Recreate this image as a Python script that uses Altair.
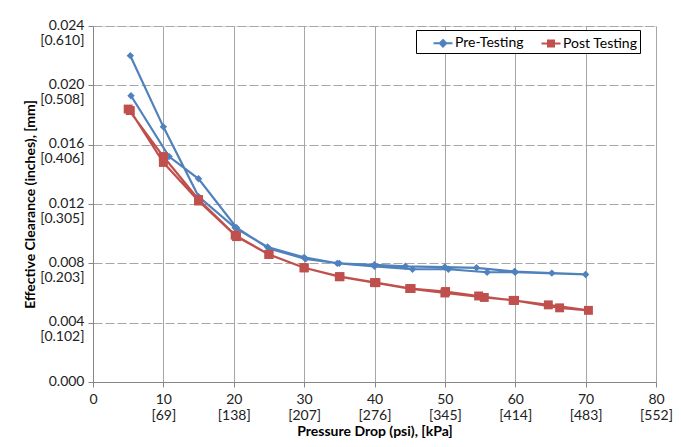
import json
import altair as alt
import pandas as pd

# ---------------- data ----------------
series_names = ["Pre-Testing", "Post Testing"]
series_colors = ["#4F81BD", "#C0504D"]

pre_psi = [5.3, 10.0, 15.0, 20.2, 24.8, 30.0, 34.7, 40.0, 44.4, 50.0, 54.5, 59.9, 65.2, 70.0,
           60.0, 56.0, 50.5, 45.4, 40.0, 35.0, 30.2, 25.0, 20.4, 15.0, 10.8, 5.4]
pre_in = [0.0220, 0.0172, 0.0125, 0.0104, 0.0091, 0.0084, 0.0080, 0.0079, 0.0078, 0.00775, 0.0077, 0.00745, 0.00734, 0.00725,
          0.0074, 0.0074, 0.0076, 0.0076, 0.0078, 0.0080, 0.0083, 0.0090, 0.0104, 0.0137, 0.0152, 0.0193]

post_psi = [5.0, 10.0, 15.0, 20.2, 25.0, 30.0, 35.1, 40.2, 45.2, 50.1, 54.8, 59.7, 64.7, 70.4,
            66.3, 59.9, 55.6, 50.0, 45.0, 40.0, 35.0, 30.0, 25.0, 20.4, 15.0, 10.0, 5.3]
post_in = [0.0184, 0.0152, 0.0123, 0.0099, 0.0086, 0.0077, 0.0071, 0.0067, 0.0063, 0.0061, 0.0058, 0.0055, 0.0052, 0.00483,
           0.0050, 0.0055, 0.0057, 0.0060, 0.0063, 0.0067, 0.0071, 0.0077, 0.0086, 0.0098, 0.0122, 0.0148, 0.0183]

x_ticks = [0, 10, 20, 30, 40, 50, 60, 70, 80]
x_kpa = ["", "[69]", "[138]", "[207]", "[276]", "[345]", "[414]", "[483]", "[552]"]

y_ticks = [0.0, 0.004, 0.008, 0.012, 0.016, 0.020, 0.024]
y_in_labels = ["0.000", "0.004", "0.008", "0.012", "0.016", "0.020", "0.024"]
y_mm_labels = ["", "[0.102]", "[0.203]", "[0.305]", "[0.406]", "[0.508]", "[0.610]"]

# ---------------- table ----------------
rows = []
for i, (p, v) in enumerate(zip(pre_psi, pre_in)):
    rows.append({"series": series_names[0], "psi": p, "clr": v, "order": i})
for i, (p, v) in enumerate(zip(post_psi, post_in)):
    rows.append({"series": series_names[1], "psi": p, "clr": v, "order": i})
df = pd.DataFrame(rows)

x_lines = [[str(t)] if k == "" else [str(t), k] for t, k in zip(x_ticks, x_kpa)]
x_expr = f"{json.dumps(x_lines)}[indexof({json.dumps(x_ticks)}, datum.value)]"
y_lines = [[a] if b == "" else [a, b] for a, b in zip(y_in_labels, y_mm_labels)]
y_expr = f"{json.dumps(y_lines)}[indexof({json.dumps(y_ticks)}, datum.value)]"

FONT = "Lato"
AX = "#868686"

x_enc = alt.X(
    "psi:Q",
    scale=alt.Scale(domain=[0, 80], nice=False),
    axis=alt.Axis(
        values=x_ticks, labelExpr=x_expr, title="Pressure Drop (psi), [kPa]",
        grid=True, gridColor="#A6A6A6", gridWidth=1, domainColor=AX, tickColor=AX,
        tickSize=5, labelFontSize=14, labelLineHeight=16, labelBaseline="top",
        labelPadding=5, labelFlush=False, labelOverlap=False, labelColor="#222222",
        titleFontSize=14, titleFontWeight="bold", titlePadding=2, titleColor="#000000",
    ),
)
y_enc = alt.Y(
    "clr:Q",
    scale=alt.Scale(domain=[0, 0.024], nice=False),
    axis=alt.Axis(
        values=y_ticks, labelExpr=y_expr, title="Effective Clearance (inches), [mm]",
        grid=True, gridColor="#A6A6A6", gridWidth=1, gridDash=[9, 3],
        domainColor=AX, tickColor=AX, tickSize=5, labelFontSize=14,
        labelLineHeight=15, labelBaseline="top", labelOffset=-8, labelPadding=4,
        labelFlush=False, labelOverlap=False, labelColor="#222222",
        titleFontSize=14, titleFontWeight="bold", titlePadding=2, titleColor="#000000",
    ),
)

color_scale = alt.Scale(domain=series_names, range=series_colors)

path_pre = "M-0.95,0H0.95M0,-0.33L0.33,0L0,0.33L-0.33,0ZM0,-0.13L0.13,0L0,0.13L-0.13,0Z"
path_post = "M-0.95,0H0.95M-0.3,-0.3H0.3V0.3H-0.3ZM-0.11,-0.11H0.11V0.11H-0.11Z"

legend = alt.Legend(
    title=None, orient="none", legendX=323, legendY=4, direction="horizontal",
    strokeColor="#000000", fillColor="#FFFFFF", padding=2, cornerRadius=0,
    labelFont=FONT, labelFontSize=14, labelColor="#000000", symbolSize=400,
    symbolStrokeWidth=2, symbolOpacity=1, symbolOffset=14, columnPadding=2,
    labelOffset=1,
)

base = alt.Chart(df)

layers = []
for name, shape, size in [(series_names[0], "diamond", 55), (series_names[1], "square", 80)]:
    sub = base.transform_filter(alt.datum.series == name)
    layers.append(
        sub.mark_line(strokeWidth=2.2).encode(
            x=x_enc, y=y_enc, order="order:Q",
            color=alt.Color("series:N", scale=color_scale, legend=None),
        )
    )
    layers.append(
        sub.mark_point(shape=shape, filled=True, size=size, opacity=1).encode(
            x=x_enc, y=y_enc,
            color=alt.Color("series:N", scale=color_scale, legend=None),
        )
    )

legend_layer = base.mark_point(filled=False, strokeWidth=2, opacity=0).encode(
    x=x_enc, y=y_enc,
    color=alt.Color("series:N", scale=color_scale, legend=legend),
    shape=alt.Shape("series:N", scale=alt.Scale(domain=series_names, range=[path_pre, path_post]), legend=legend),
)
layers.append(legend_layer)

chart = alt.layer(*layers).resolve_scale(
    color="independent", shape="independent"
).properties(
    width=563, height=356,
    padding={"left": 15, "top": 10, "right": 0, "bottom": 3},
    background="#FFFFFF",
).configure_view(stroke=None).configure(font=FONT)

chart.save("out.html", embed_options={"renderer": "svg", "actions": False})
